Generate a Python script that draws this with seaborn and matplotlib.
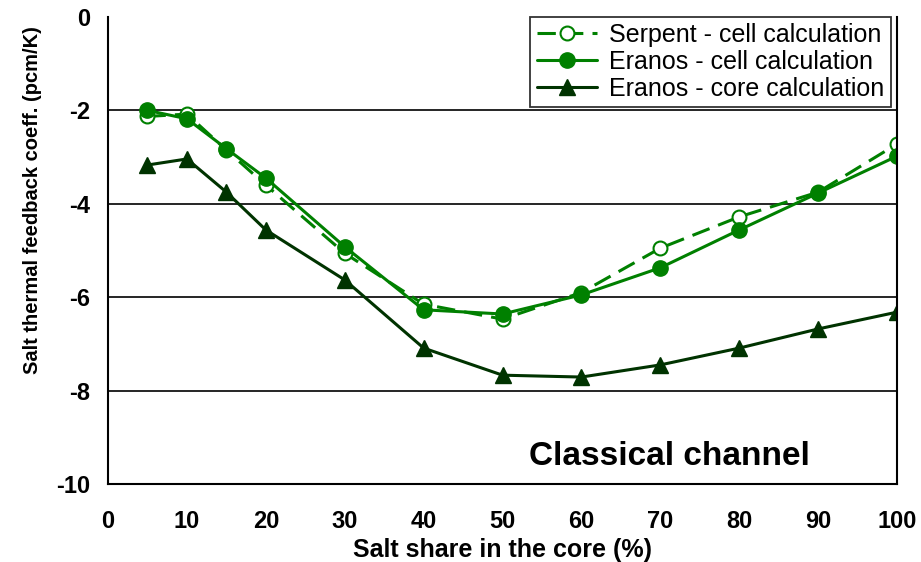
import matplotlib
matplotlib.use("Agg")
import matplotlib.pyplot as plt
import seaborn as sns
import pandas as pd

salt_share = [5, 10, 15, 20, 30, 40, 50, 60, 70, 80, 90, 100]
serpent_cell = [-2.13, -2.08, -2.85, -3.6, -5.06, -6.15, -6.47, -5.9, -4.95, -4.28, -3.75, -2.72]
eranos_cell = [-2.0, -2.18, -2.82, -3.45, -4.92, -6.27, -6.36, -5.95, -5.37, -4.56, -3.77, -2.98]
eranos_core = [-3.17, -3.04, -3.75, -4.56, -5.63, -7.09, -7.67, -7.71, -7.45, -7.09, -6.68, -6.32]
series_names = ["Serpent - cell calculation", "Eranos - cell calculation", "Eranos - core calculation"]

df = pd.DataFrame({
    "x": salt_share * 3,
    "y": serpent_cell + eranos_cell + eranos_core,
    "series": [series_names[0]] * 12 + [series_names[1]] * 12 + [series_names[2]] * 12,
})

sns.set_style("white")
plt.rcParams["font.family"] = ["Liberation Sans", "DejaVu Sans"]
plt.rcParams["axes.unicode_minus"] = False
plt.rcParams["text.color"] = "black"
plt.rcParams["axes.labelcolor"] = "black"
plt.rcParams["xtick.color"] = "black"
plt.rcParams["ytick.color"] = "black"

fig = plt.figure(figsize=(9.21, 5.62), dpi=100)
ax = fig.add_axes([0.1173, 0.1388, 0.8567, 0.831])

green = "#008000"
dark = "#003300"

styles = {
    series_names[0]: dict(color=green, ls=(0, (6, 3)), marker="o", mfc="white", mec=green, ms=10, mew=1.5, lw=2.2),
    series_names[1]: dict(color=green, ls="-", marker="o", mfc=green, mec=green, ms=11, lw=2.2),
    series_names[2]: dict(color=dark, ls="-", marker="^", mfc=dark, mec=dark, ms=11, lw=2.2),
}

for name in series_names:
    sub = df[df["series"] == name]
    st = styles[name]
    sns.lineplot(data=sub, x="x", y="y", ax=ax, color=st["color"], linestyle=st["ls"],
                 linewidth=st["lw"], marker=st["marker"], markersize=st["ms"],
                 markerfacecolor=st["mfc"], markeredgecolor=st["mec"],
                 markeredgewidth=st.get("mew", 1.0), label=name, estimator=None, sort=False)

ax.set_xlim(0, 100)
ax.set_ylim(-10, 0)
ax.set_xticks(range(0, 101, 10))
ax.set_yticks(range(-10, 1, 2))
ax.yaxis.grid(True, color="black", lw=1.2)
ax.get_ygridlines()[-1].set_visible(False)
ax.set_axisbelow(True)
for s in ["left", "bottom", "right"]:
    ax.spines[s].set_visible(True)
    ax.spines[s].set_color("black")
    ax.spines[s].set_linewidth(1.5)
ax.spines["top"].set_visible(False)
ax.tick_params(axis="both", direction="out", length=6, width=1.2, color="black",
               labelsize=17, labelcolor="black")
ax.tick_params(axis="x", pad=13)
ax.tick_params(axis="y", pad=7)
for lab in ax.get_xticklabels() + ax.get_yticklabels():
    lab.set_fontweight("bold")

ax.set_xlabel("Salt share in the core (%)", fontsize=18, fontweight="bold", labelpad=3)
ax.set_ylabel("Salt thermal feedback coeff. (pcm/K)", fontsize=14.5, fontweight="bold")
ax.yaxis.set_label_coords(-0.084, 0.608)

leg = ax.legend(loc="upper right", bbox_to_anchor=(0.992, 1.0), borderaxespad=0, fontsize=18,
                frameon=True, fancybox=False, edgecolor="black", handlelength=2.4, borderpad=0.25,
                labelspacing=0.12, handletextpad=0.5)
leg.get_frame().set_linewidth(1.3)

ax.text(0.712, 0.058, "Classical channel", transform=ax.transAxes, ha="center", va="center",
        fontsize=24, fontweight="bold")

fig.savefig("out.png", dpi=100)
